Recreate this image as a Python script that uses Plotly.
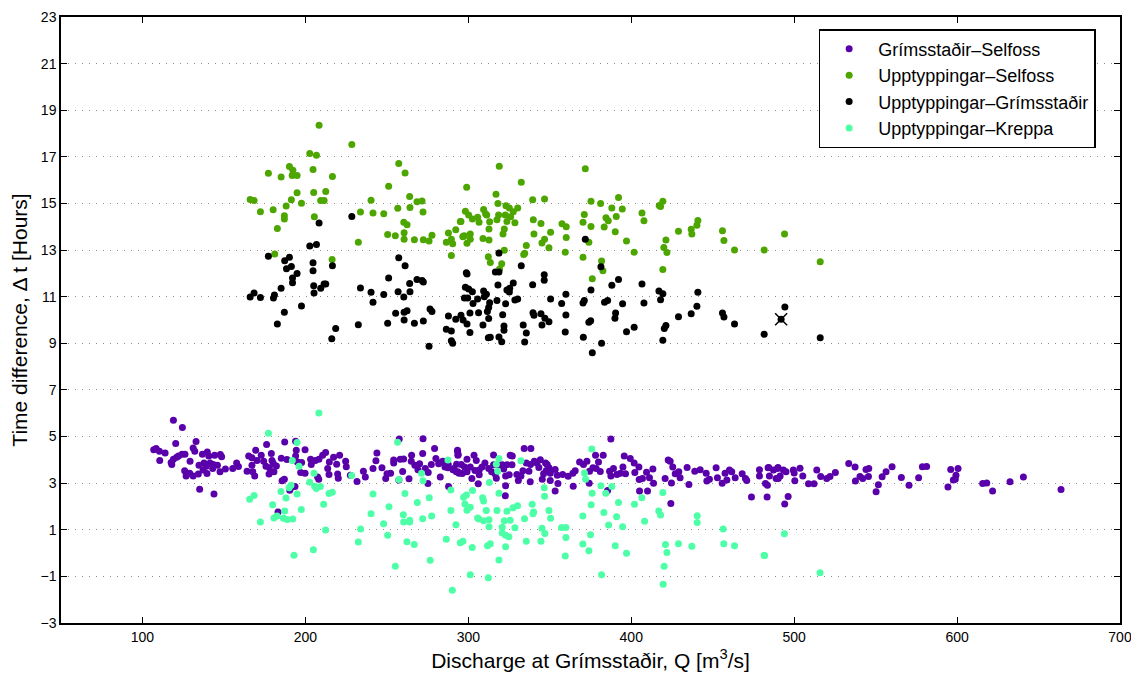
import plotly.graph_objects as go

# Grímsstaðir–Selfoss (purple)
gs_q = [119.0,124.5,120.4,132.9,131.1,106.9,108.4,110.4,113.9,110.6,117.6,119.0,121.0,122.1,124.3,126.1,118.0,129.2,132.1,136.8,
        139.8,140.7,144.3,147.8,148.6,134.7,137.8,139.2,141.5,143.5,146.0,143.1,137.2,134.3,139.6,131.1,129.0,125.9,126.8,147.6,
        150.9,135.1,143.9,155.4,157.8,158.9,164.2,165.2,167.2,169.5,170.3,172.9,167.2,167.7,168.9,176.2,179.1,174.4,175.8,177.9,
        180.3,179.5,182.2,177.7,180.7,185.2,187.3,188.7,194.0,194.4,195.1,194.0,199.8,197.1,199.8,185.7,187.1,190.4,193.6,191.0,
        183.2,197.7,203.2,206.1,208.3,210.6,212.4,214.7,217.3,219.2,221.0,224.7,225.1,203.6,207.5,208.2,213.7,214.5,219.8,220.2,
        227.6,231.7,235.6,236.8,241.5,243.3,243.9,247.0,250.1,252.3,249.3,254.2,254.2,257.6,258.2,260.3,259.7,257.4,263.6,265.2,
        265.0,267.2,269.1,270.1,272.0,272.2,273.6,275.4,275.2,277.3,279.3,280.1,281.8,283.8,282.8,287.5,287.9,290.6,293.4,293.6,
        293.6,292.8,
        293.4,293.8,284.4,285.7,287.7,291.0,292.6,294.3,295.7,297.7,296.3,299.2,299.2,301.2,302.2,303.5,304.9,304.1,306.7,306.7,
        306.1,308.4,310.2,312.5,314.3,315.5,315.5,316.5,317.2,318.6,320.8,321.7,323.7,325.7,327.0,326.8,325.1,322.9,322.9,322.7,
        329.8,330.7,332.3,334.3,338.4,333.5,335.6,337.2,338.2,338.0,340.5,342.1,343.3,344.2,345.4,347.4,348.4,347.8,346.2,349.5,
        350.3,350.3,353.3,354.6,355.0,353.3,357.9,361.3,364.2,364.4,365.6,368.3,370.7,372.8,374.4,374.2,376.5,378.5,378.1,379.9,
        382.8,381.0,387.5,386.7,385.5,387.5,389.1,391.2,393.4,394.9,395.7,396.5,399.4,401.8,402.2,404.7,404.9,405.1,406.9,410.0,
        409.4,411.2,413.3,413.7,420.8,424.3,422.7,423.9,425.5,427.0,429.2,430.0,424.7,434.3,435.4,439.0,442.3,446.0,446.4,448.0,
        452.1,452.9,455.8,457.6,460.3,461.7,458.7,463.8,468.1,470.1,470.9,473.8,478.7,478.7,482.4,484.0,483.4,487.3,489.8,490.2,
        483.6,484.4,484.8,488.9,490.1,491.4,493.4,495.0,494.2,496.3,499.5,500.0,500.4,503.6,505.3,508.8,512.2,513.9,516.3,520.0,
        522.0,525.3,533.5,537.4,537.6,540.4,542.1,544.1,545.8,545.6,550.3,551.7,554.0,556.4,560.1,565.8,570.5,576.4,578.7,581.3,
        594.4,596.1,597.7,598.9,599.3,600.6,615.7,618.2,621.8,632.5,640.7,663.8]
gs_dt = [5.70,5.39,4.70,4.79,4.51,4.43,4.49,4.37,4.29,3.97,3.89,4.03,4.11,4.17,4.24,4.24,3.80,3.94,4.37,4.24,
         4.34,4.17,4.20,4.23,4.13,3.77,3.87,3.73,3.86,3.80,3.77,3.63,3.56,3.39,3.41,3.31,3.43,3.53,3.31,3.49,
         3.61,2.74,2.54,3.63,3.87,3.71,3.51,4.16,4.09,4.41,3.97,4.20,3.77,3.49,3.31,4.66,4.27,3.94,3.73,3.66,
         3.84,3.97,3.74,3.39,3.49,4.07,4.77,4.01,4.80,4.41,3.91,4.17,4.43,3.46,3.43,3.10,3.17,2.70,2.86,2.80,
         1.76,3.89,4.03,3.97,4.03,4.20,4.31,3.91,4.11,3.81,4.20,3.94,3.70,3.80,3.26,3.17,3.63,3.37,3.39,3.21,
         3.34,3.07,3.51,3.26,3.63,3.96,4.29,3.66,3.40,3.43,3.20,3.87,3.99,4.89,4.03,4.04,3.50,3.13,3.19,4.20,
         3.94,3.77,3.57,3.83,4.27,4.91,3.63,3.46,2.99,3.80,4.49,4.06,3.83,3.91,3.26,3.66,2.86,3.57,4.37,4.20,
         3.49,3.81,
         4.41,4.23,3.94,3.69,3.80,3.63,3.49,3.43,3.80,3.69,3.41,4.03,3.49,3.69,3.20,4.20,3.97,3.54,3.56,3.36,
         2.97,3.69,3.87,3.63,3.49,4.21,3.79,3.39,3.21,3.79,3.79,3.61,3.79,4.20,4.17,3.79,3.36,3.31,2.89,2.46,
         3.37,3.11,3.31,4.49,4.49,3.53,3.87,3.51,3.80,3.06,3.94,3.87,3.67,4.00,3.17,3.87,3.80,3.53,3.40,3.66,
         3.43,3.11,3.59,3.34,2.99,2.66,3.37,3.30,3.43,2.87,3.53,3.91,3.80,3.94,3.51,3.00,3.66,3.63,4.20,3.91,
         4.20,3.50,4.89,3.51,2.69,3.31,3.63,3.37,3.43,3.69,4.17,3.40,4.06,3.87,3.46,3.69,3.16,2.66,3.20,2.66,
         3.47,3.23,3.61,3.00,3.20,2.13,3.99,3.94,3.69,3.40,3.49,3.23,3.01,3.67,2.94,3.51,3.57,3.43,3.09,3.17,
         3.66,3.23,3.00,3.43,3.56,3.49,3.13,3.23,3.40,3.20,3.11,2.41,3.57,3.31,2.99,3.66,2.41,3.56,3.63,3.20,
         2.91,3.67,3.31,3.20,3.67,3.31,3.56,3.49,2.11,2.43,3.56,3.44,3.10,3.64,3.31,2.97,2.97,3.56,3.29,3.20,
         3.29,3.46,3.84,3.69,3.09,3.29,3.20,3.59,3.63,3.29,2.63,2.93,3.27,3.49,3.70,3.24,2.91,3.23,3.70,3.71,
         2.84,3.59,3.13,3.17,3.34,3.63,2.99,3.01,2.66,3.06,3.26,2.73]

# Upptyppingar–Selfoss (green)
us_q = [208.4,228.5,202.7,206.8,177.3,185.1,190.2,192.3,191.9,194.9,204.7,216.6,257.3,261.2,251.1,299.0,194.9,191.4,205.1,212.5,
        209.4,211.5,197.6,166.1,168.5,188.2,172.4,180.2,187.1,187.1,205.5,182.8,240.3,233.8,241.5,248.1,256.7,264.0,264.2,268.5,
        271.6,272.2,260.4,262.4,260.6,260.6,255.2,250.5,266.9,272.4,275.9,277.7,232.5,216.4,181.2,286.5,287.8,289.6,290.4,292.3,
        295.5,296.8,297.6,298.2,299.2,289.6,300.2,
        319.0,371.8,332.5,317.0,318.2,339.5,346.8,323.1,325.2,330.3,327.6,302.5,305.7,309.4,310.6,311.3,313.1,317.6,318.6,322.7,
        323.7,326.0,328.6,295.1,306.6,339.9,344.6,357.5,360.1,350.5,322.1,321.3,312.7,340.3,360.1,296.7,301.2,301.2,309.0,312.7,
        346.8,345.2,349.5,335.6,322.1,334.0,334.6,359.5,312.3,313.5,320.5,319.2,375.3,381.2,388.1,392.2,394.5,371.2,370.4,384.5,
        385.9,390.8,406.6,407.8,417.2,418.0,419.4,375.3,383.4,390.2,374.0,397.1,401.8,421.3,420.0,421.9,419.4,370.4,381.8,382.6,
        376.1,429.0,436.8,437.2,440.3,440.9,456.0,456.9,463.4,481.6,494.1,516.0]
us_dt = [18.36,17.53,17.14,17.07,16.30,16.14,16.59,16.43,16.20,16.20,16.46,16.16,16.71,16.31,15.74,15.70,15.46,15.16,15.47,15.51,
         15.13,15.13,15.01,15.17,15.13,14.89,14.64,14.73,14.47,14.33,14.43,13.93,15.14,14.63,14.59,14.56,14.79,15.30,14.83,15.07,
         15.11,14.63,14.19,14.09,13.74,13.46,13.61,13.67,13.44,13.44,13.39,13.64,13.34,12.60,12.83,13.34,13.73,13.46,13.27,13.87,
         14.23,13.59,13.61,14.67,13.29,12.77,14.50,
         16.60,16.49,15.91,15.39,15.00,15.16,15.19,14.90,14.80,14.80,14.64,14.33,14.41,14.74,14.56,14.50,14.21,14.30,14.51,14.51,
         14.23,14.43,14.17,14.23,14.19,14.30,14.14,14.13,14.00,13.76,13.90,13.69,13.90,13.69,13.54,13.57,13.69,13.46,13.50,13.43,
         13.46,13.30,13.10,13.20,12.99,12.81,12.86,12.91,12.71,12.47,12.41,12.19,15.10,15.00,14.80,15.26,14.76,14.53,14.19,14.39,
         14.26,14.44,14.59,14.26,14.91,14.87,15.09,14.01,13.99,13.79,13.34,13.39,12.91,13.43,13.11,12.90,12.17,12.69,12.53,12.11,
         11.77,13.81,13.89,13.69,14.06,14.27,13.83,13.41,13.00,13.00,13.69,12.50]

# Upptyppingar–Grímsstaðir (black)
ug_q = [208.4,228.5,202.7,206.8,177.3,187.3,190.2,188.4,191.4,194.9,192.1,192.1,204.7,204.7,216.6,205.1,205.3,209.4,211.5,212.5,
        185.1,181.0,180.4,172.4,168.5,166.1,187.1,197.6,182.8,216.2,218.6,232.5,233.8,240.3,241.5,248.1,251.1,257.3,261.2,256.9,
        260.4,264.2,264.0,268.5,271.6,272.4,255.4,260.6,262.4,250.5,260.6,266.9,272.4,276.5,277.7,275.9,286.5,287.8,289.6,289.6,
        290.4,292.3,295.5,296.8,299.2,301.0,301.0,299.2,298.2,297.6,299.6,
        371.8,318.8,332.5,381.4,316.6,318.8,298.8,346.6,346.6,318.2,339.5,327.6,325.4,323.7,325.2,300.2,302.5,309.4,311.1,309.8,
        305.7,302.9,317.6,322.9,328.6,330.3,313.1,312.5,311.7,306.3,321.1,339.7,340.3,344.6,312.5,309.0,321.9,321.9,333.7,345.2,
        347.0,349.5,335.6,312.3,313.5,318.8,320.5,334.6,350.5,357.3,359.9,359.9,359.5,370.6,370.4,371.2,375.3,383.6,385.5,388.1,
        392.2,394.7,390.4,390.0,374.0,375.1,381.8,376.1,397.1,401.8,406.6,407.8,417.0,419.4,418.0,421.3,420.3,419.4,429.0,436.8,
        440.3,440.9,456.0,456.9,463.4,481.6,494.3,492.0,516.0]
ug_dt = [14.16,14.44,13.17,13.24,12.73,12.54,12.69,12.20,12.30,12.00,11.80,11.60,12.46,12.11,12.33,11.47,11.16,11.36,11.54,11.54,
         11.36,11.07,10.94,10.97,11.16,10.99,10.33,10.60,9.83,9.20,9.64,9.80,11.37,11.19,10.76,11.09,11.80,12.67,12.33,11.21,
         10.99,11.21,11.57,11.74,11.69,11.63,10.29,10.33,10.40,9.86,10.00,9.86,9.96,10.47,10.36,8.87,9.60,10.17,9.53,9.11,
         9.00,10.03,10.20,10.00,9.83,10.30,9.46,11.97,11.41,10.94,10.94,
         13.46,12.87,12.33,12.29,12.06,12.06,12.03,11.94,11.71,11.50,11.51,11.59,11.36,11.29,11.20,11.33,11.21,11.24,11.10,11.00,
         10.90,10.71,10.84,10.70,10.86,10.90,10.74,10.54,10.36,10.31,10.23,10.31,10.20,10.27,10.06,9.79,9.74,9.56,9.79,9.79,
         10.07,9.93,9.44,9.24,9.26,9.27,9.07,9.06,10.90,10.71,11.10,10.21,9.49,9.26,10.73,10.84,11.29,10.76,10.84,11.49,
         11.74,10.70,10.30,10.07,9.90,9.97,9.00,8.60,9.50,9.69,11.54,10.73,11.24,11.13,10.87,9.76,9.63,9.13,10.14,10.27,
         10.59,11.19,10.30,10.13,9.83,9.39,10.56,10.03,9.24]

# Upptyppingar–Kreppa (cyan)
uk_q = [208.3,177.3,194.9,256.6,192.0,196.1,205.3,202.6,205.7,209.2,206.7,191.2,190.0,185.0,194.9,188.1,168.5,165.8,179.9,187.3,
        182.6,180.7,186.5,188.9,192.2,197.5,211.2,214.5,216.5,172.4,212.4,193.0,204.9,228.4,241.5,240.3,233.9,232.5,248.0,251.3,
        250.5,255.2,257.4,261.1,260.1,260.3,264.0,264.0,262.3,266.8,268.7,272.0,271.3,272.2,276.0,277.5,276.6,286.5,287.5,289.3,
        289.3,292.4,295.1,290.2,
        296.7,302.4,301.2,312.3,297.1,298.8,297.9,299.2,301.2,302.6,305.7,306.5,309.4,308.8,309.4,311.0,312.7,312.7,312.9,317.2,
        318.0,318.8,318.8,317.6,311.8,313.5,318.8,320.8,322.1,323.7,325.7,327.4,330.2,328.6,320.8,322.9,324.9,322.9,332.3,334.5,
        335.6,339.2,340.1,339.7,344.6,345.2,347.0,346.6,346.8,349.5,350.5,357.2,359.9,359.9,359.5,370.3,370.3,374.0,375.0,375.4,
        376.0,371.3,372.0,375.8,381.8,383.2,384.4,381.4,386.1,388.1,391.0,392.2,394.7,390.2,397.1,402.0,406.5,408.2,416.9,418.0,
        419.4,421.0,421.9,420.2,419.6,429.0,437.2,440.5,440.5,456.4,456.8,463.4,481.8,494.0,481.6,515.9]
uk_dt = [6.01,5.14,4.74,4.76,3.97,3.73,3.43,3.04,2.87,2.86,2.77,2.91,2.80,2.64,2.53,2.36,2.47,2.31,2.07,1.81,
         1.59,1.51,1.49,1.44,1.46,1.87,2.09,2.56,2.61,1.33,0.99,-0.09,0.14,3.33,2.53,1.69,1.03,0.47,1.26,1.99,
         0.77,-0.57,3.16,2.56,1.64,1.33,1.41,1.33,0.49,0.37,2.17,1.47,3.43,3.10,2.37,1.59,-0.31,0.59,3.99,2.71,
         1.83,1.21,0.44,-1.60,
         0.51,0.24,-0.93,-1.06,2.39,2.49,2.11,1.84,1.97,2.69,1.50,1.46,1.39,2.37,2.23,1.83,1.43,1.13,3.03,3.81,
         3.51,4.06,2.57,1.83,0.31,0.40,-0.30,1.11,1.39,1.79,1.41,1.94,2.03,1.09,0.86,0.77,0.70,0.27,3.96,1.47,
         0.51,2.10,1.76,1.69,0.51,1.06,0.84,2.80,2.44,1.83,1.49,1.10,1.10,0.67,-0.13,1.59,0.39,0.10,0.79,2.07,
         2.57,3.44,3.17,4.47,-0.93,1.74,2.57,2.89,1.20,2.86,1.56,2.17,1.13,0.31,-0.01,2.10,2.37,1.37,1.81,1.63,
         2.60,0.37,0.03,-0.56,-1.34,0.40,0.29,1.60,1.31,1.03,0.40,0.31,-0.10,0.83,-0.10,-0.84]

# highlighted event (cross marker)
hl_q = [492.0]
hl_dt = [10.03]

x_ticks = [100, 200, 300, 400, 500, 600, 700]
y_ticks = list(range(-3, 24, 2))

colors = ["#5a00aa", "#4da600", "#000000", "#4dffa6"]
names = ["Grímsstaðir–Selfoss", "Upptyppingar–Selfoss", "Upptyppingar–Grímsstaðir", "Upptyppingar–Kreppa"]
series = [(gs_q, gs_dt), (us_q, us_dt), (ug_q, ug_dt), (uk_q, uk_dt)]

fig = go.Figure()
for (xs, ys), c, n in zip(series, colors, names):
    fig.add_trace(go.Scatter(x=xs, y=ys, mode="markers", name=n,
                             marker=dict(color=c, size=7, line=dict(width=0))))
fig.add_trace(go.Scatter(x=hl_q, y=hl_dt, mode="markers", showlegend=False,
                         marker=dict(symbol="x-thin", size=12, color="black",
                                     line=dict(width=1.5, color="black"))))

font = "Liberation Sans, Arial, sans-serif"
# the page body adds an 8px offset; sizes below compensate for it
fig.update_layout(
    width=1131, height=669,
    margin=dict(l=53, r=19, t=9, b=54, autoexpand=False),
    paper_bgcolor="white", plot_bgcolor="white",
    font=dict(family=font, color="black"),
    legend=dict(x=0.977, y=0.98, xanchor="right", yanchor="top",
                bgcolor="white", bordercolor="black", borderwidth=1.5,
                font=dict(size=18, family=font), itemsizing="trace", itemwidth=48,
                tracegroupgap=0),
)
fig.update_xaxes(range=[50, 700], tickvals=x_ticks, ticks="inside", ticklen=6, tickcolor="black",
                 showline=True, linecolor="black", linewidth=1.5, mirror="ticks", showgrid=False,
                 zeroline=False, tickfont=dict(size=14), automargin=False,
                 title=dict(text="Discharge at Grímsstaðir, Q [m<sup>3</sup>/s]", font=dict(size=21), standoff=10))
fig.update_yaxes(range=[-3, 23], tickvals=y_ticks, ticks="inside", ticklen=6, tickcolor="black",
                 showline=True, linecolor="black", linewidth=1.5, mirror="ticks", showgrid=True,
                 gridcolor="#8c8c8c", griddash="1px,6px", gridwidth=1,
                 zeroline=False, tickfont=dict(size=14), automargin=False,
                 title=dict(text="Time difference, Δ t [Hours]", font=dict(size=21), standoff=8))

fig.write_html("out.html")
